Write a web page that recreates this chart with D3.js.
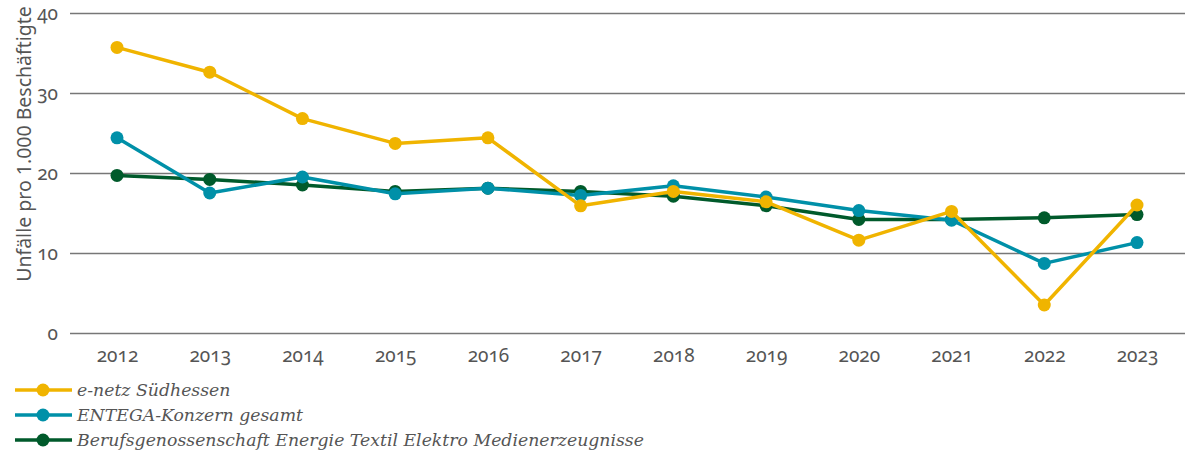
<!DOCTYPE html>
<html>
<head>
<meta charset="utf-8">
<script src="https://cdn.jsdelivr.net/npm/d3@7"></script>
<style>
  html, body { margin: 0; padding: 0; background: #fff; }
  svg { display: block; }
  .tick-label { font-family: "Noto Sans", "Open Sans", sans-serif; font-size: 19px; fill: #555; font-variant-numeric: oldstyle-nums; }
  .axis-title { font-family: "Noto Sans", "Open Sans", sans-serif; font-size: 19.5px; fill: #555; }
  .legend-label { font-family: "DejaVu Serif", "Liberation Serif", serif; font-style: italic; font-size: 17.3px; fill: #555; }
</style>
</head>
<body>
<svg id="chart" width="1185" height="455"></svg>
<script>
const years = ["2012","2013","2014","2015","2016","2017","2018","2019","2020","2021","2022","2023"];
const eNetz   = [35.7, 32.6, 26.8, 23.7, 24.4, 15.9, 17.7, 16.4, 11.6, 15.2, 3.5, 16.0];
const entega  = [24.4, 17.5, 19.5, 17.4, 18.1, 17.2, 18.4, 17.0, 15.3, 14.1, 8.7, 11.3];
const bgEtem  = [19.7, 19.2, 18.5, 17.7, 18.1, 17.7, 17.1, 15.9, 14.2, 14.2, 14.4, 14.8];
const yTicks  = [0, 10, 20, 30, 40];
const seriesNames = ["e-netz Südhessen", "ENTEGA-Konzern gesamt", "Berufsgenossenschaft Energie Textil Elektro Medienerzeugnisse"];
const seriesColors = ["#f0b400", "#0090a8", "#005a2b"];

const svg = d3.select("#chart");
const plot = { left: 70, right: 1185, top: 13, bottom: 333 };

const x = d3.scalePoint().domain(years).range([117, 1137]);
const y = d3.scaleLinear().domain([0, 40]).range([plot.bottom, plot.top]);

// horizontal gridlines with value labels
const yAxis = d3.axisLeft(y).tickValues(yTicks).tickSize(-(plot.right - plot.left)).tickPadding(12);
const gy = svg.append("g").attr("transform", `translate(${plot.left},0)`).call(yAxis);
gy.select(".domain").remove();
gy.selectAll(".tick line").attr("stroke", "#777").attr("stroke-width", 1.6);
gy.selectAll(".tick text").attr("class", "tick-label").attr("x", -12);

// year labels
const xAxis = d3.axisBottom(x).tickSize(0).tickPadding(16);
const gx = svg.append("g").attr("transform", `translate(0,${plot.bottom})`).call(xAxis);
gx.select(".domain").remove();
gx.selectAll(".tick text").attr("class", "tick-label");

// axis title
svg.append("text")
  .attr("class", "axis-title")
  .attr("transform", `translate(31,144) rotate(-90)`)
  .attr("text-anchor", "middle")
  .text("Unfälle pro 1.000 Beschäftigte");

// series: drawn bottom-up so e-netz sits on top
const series = [
  { name: seriesNames[2], values: bgEtem, color: seriesColors[2] },
  { name: seriesNames[1], values: entega, color: seriesColors[1] },
  { name: seriesNames[0], values: eNetz,  color: seriesColors[0] }
];

const line = d3.line().x((d, i) => x(years[i])).y(d => y(d));

series.forEach(s => {
  const g = svg.append("g");
  g.append("path")
    .datum(s.values)
    .attr("d", line)
    .attr("fill", "none")
    .attr("stroke", s.color)
    .attr("stroke-width", 3.5)
    .attr("stroke-linejoin", "round");
  g.selectAll("circle")
    .data(s.values)
    .join("circle")
    .attr("cx", (d, i) => x(years[i]))
    .attr("cy", d => y(d))
    .attr("r", 6.5)
    .attr("fill", s.color);
});

// legend
const legend = svg.append("g");
seriesNames.forEach((name, i) => {
  const ly = 390 + i * 25;
  const row = legend.append("g").attr("transform", `translate(0,${ly})`);
  row.append("line").attr("x1", 15).attr("x2", 72).attr("y1", 0).attr("y2", 0)
    .attr("stroke", seriesColors[i]).attr("stroke-width", 3.5);
  row.append("circle").attr("cx", 43).attr("cy", 0).attr("r", 6.5).attr("fill", seriesColors[i]);
  row.append("text").attr("class", "legend-label").attr("x", 77).attr("y", 6).text(name);
});
</script>
</body>
</html>
